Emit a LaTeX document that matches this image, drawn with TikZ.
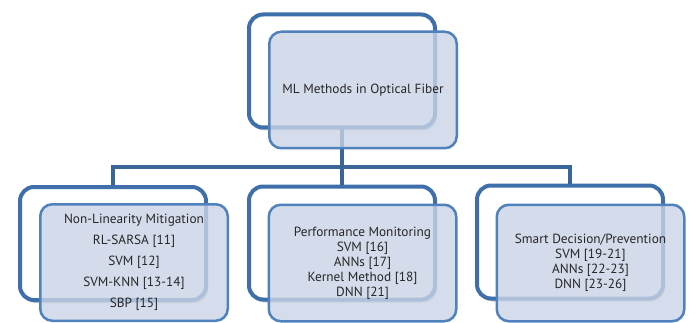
\documentclass[tikz,border=0pt]{standalone}
\usepackage{fontspec}
\setmainfont{PT Sans}
\usetikzlibrary{shadows}
\definecolor{backline}{HTML}{3F6FAA}
\definecolor{frontline}{HTML}{4F81BD}
\definecolor{frontfill}{HTML}{CAD4E7}
\definecolor{linkline}{HTML}{3A6598}
\tikzset{
  backbox/.style={draw=backline, line width=4pt, fill=white, rounded corners=14pt,
    minimum width=186pt, minimum height=113pt, inner sep=0pt,
    drop shadow={shadow xshift=2pt, shadow yshift=-3pt, opacity=0.35, fill=black!60}},
  frontbox/.style={draw=frontline, line width=2.5pt, fill=frontfill, fill opacity=0.8,
    text opacity=1, rounded corners=12pt, minimum width=187.5pt, minimum height=116.5pt,
    inner sep=0pt, align=center, font=\fontsize{13.3}{15}\selectfont, text=black!85},
  link/.style={draw=linkline, line width=3.5pt}
}
\begin{document}
\begin{tikzpicture}[x=1pt, y=-1pt]
\useasboundingbox (0,0) rectangle (700,323);
% junction point of the tree
\coordinate (bus) at (342,167);
% back frames
\node[backbox] (rootback) at (342,71) {};
\node[backbox] (nlback) at (113,243.5) {};
\node[backbox] (pmback) at (342,243) {};
\node[backbox] (sdback) at (570,242) {};
% connectors
\draw[link] (rootback.south) -- (bus);
\draw[link] (bus) -| (nlback.north);
\draw[link] (bus) -- (pmback.north);
\draw[link] (bus) -| (sdback.north);
% front cards with the text
\node[frontbox] (root) at (363,90) {ML Methods in Optical Fiber};
\node[frontbox] (nl) at (134,262.5) {Non-Linearity Mitigation\\[6pt] RL-SARSA [11]\\[6pt] SVM [12]\\[6pt] SVM-KNN [13-14]\\[6pt] SBP [15]};
\node[frontbox] (pm) at (362.5,263) {Performance Monitoring\\ SVM [16]\\ ANNs [17]\\ Kernel Method [18]\\ DNN [21]};
\node[frontbox] (sd) at (590.5,263) {Smart Decision/Prevention\\ SVM [19-21]\\ ANNs [22-23]\\ DNN [23-26]};
\end{tikzpicture}
\end{document}
